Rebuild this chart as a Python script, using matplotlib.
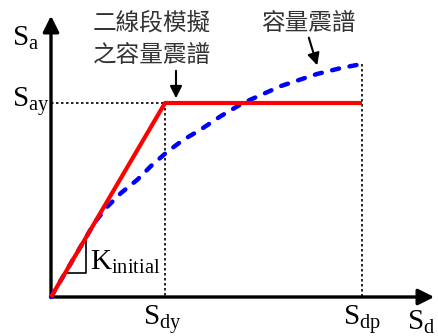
import matplotlib.pyplot as plt

plt.rcParams['mathtext.fontset'] = 'custom'
plt.rcParams['mathtext.rm'] = 'Liberation Serif'
plt.rcParams['mathtext.it'] = 'Liberation Serif'

# key points of the spectra (drawing units)
sdy = 114
sdp = 311
say = 194

# bilinear approximation
bilinear_x = [0, sdy, sdp]
bilinear_y = [0, say, say]

# capacity spectrum
cap_x = [0, 20, 30, 44, 56, 70, 86, 100, 116, 132, 149, 170, 192, 230, 266, 290, 311]
cap_y = [0, 34, 51, 75, 90, 104, 117, 131, 145, 157, 167, 181, 194, 211, 223, 229, 233]

fig = plt.figure(figsize=(4.39, 3.36), dpi=100)
ax = fig.add_axes([0, 0, 1, 1])
ax.set_xlim(-51, 388)
ax.set_ylim(-39, 297)
ax.axis('off')

# axes with arrow heads
ax.annotate('', xy=(386, 0), xytext=(-1, 0),
            arrowprops=dict(arrowstyle='-|>', lw=2.4, color='black', mutation_scale=24))
ax.annotate('', xy=(0, 284), xytext=(0, -1),
            arrowprops=dict(arrowstyle='-|>', lw=2.4, color='black', mutation_scale=24))

# guide lines
ax.plot([0, sdy], [say, say], color='black', lw=1.2, ls=(0, (1.5, 1.5)))
ax.plot([sdy, sdy], [say, 0], color='black', lw=1.2, ls=(0, (1.5, 1.5)))
ax.plot([sdp, sdp], [cap_y[-1], 0], color='black', lw=1.2, ls=(0, (1.5, 1.5)))

ax.plot(cap_x, cap_y, color='blue', lw=3.2, ls=(0, (1.6, 2.4)),
        dash_capstyle='round', zorder=3)
ax.plot(bilinear_x, bilinear_y, color='red', lw=3, zorder=4, solid_capstyle='butt')

# initial stiffness marker
ax.plot([14, 35, 35], [24, 24, 59], color='black', lw=1.2)

serif = dict(color='black', fontsize=21)
ax.text(-39, 259, r'$\mathrm{S}_{\mathrm{a}}$', va='center', ha='left', **serif)
ax.text(-39, 196, r'$\mathrm{S}_{\mathrm{ay}}$', va='center', ha='left', **serif)
ax.text(39, 35, r'$\mathrm{K}_{\mathrm{initial}}$', va='center', ha='left', **serif)
ax.text(sdy - 3, -22, r'$\mathrm{S}_{\mathrm{dy}}$', va='center', ha='center', **serif)
ax.text(sdp, -22, r'$\mathrm{S}_{\mathrm{dp}}$', va='center', ha='center', **serif)
ax.text(370, -25, r'$\mathrm{S}_{\mathrm{d}}$', va='center', ha='center', **serif)

cjk = dict(color='#333333', fontsize=17, family=['Noto Sans CJK TC', 'DejaVu Sans'])
ax.text(101, 274, '二線段模擬', ha='center', va='center', **cjk)
ax.text(101, 242, '之容量震譜', ha='center', va='center', **cjk)
ax.text(257, 274, '容量震譜', ha='center', va='center', **cjk)

ax.annotate('', xy=(125, 196), xytext=(125, 229),
            arrowprops=dict(arrowstyle='-|>', lw=1.5, color='black', mutation_scale=18))
ax.annotate('', xy=(267, 229), xytext=(257, 262),
            arrowprops=dict(arrowstyle='-|>', lw=1.5, color='black', mutation_scale=18))

fig.savefig('out.png', dpi=100)
